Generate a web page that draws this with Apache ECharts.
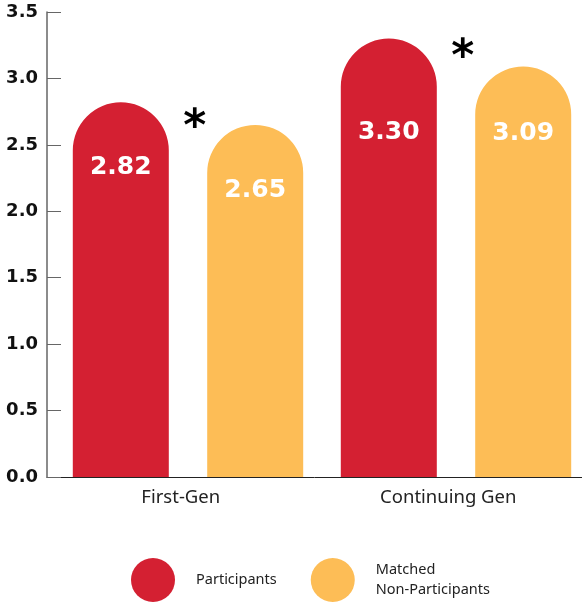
<!DOCTYPE html>
<html>
<head>
<meta charset="utf-8">
<script src="https://cdn.jsdelivr.net/npm/echarts@6/dist/echarts.min.js"></script>
<style>html,body{margin:0;padding:0;background:#fff}#c{width:582px;height:606px}</style>
</head>
<body>
<div id="c"></div>
<script>
const categories = ['First-Gen', 'Continuing Gen'];
const participants = [2.82, 3.30];
const nonParticipants = [2.65, 3.09];
const significant = [true, true];
const yTicks = [0, 0.5, 1.0, 1.5, 2.0, 2.5, 3.0, 3.5];
const seriesNames = ['Participants', 'Matched\nNon-Participants'];

const RED = '#D42032';
const YEL = '#FDBD56';
const labelDistRed = [53, 81];
const labelDistYel = [53, 55];
const starOffsetY = [26, 20];

const chart = echarts.init(document.getElementById('c'), null, {renderer: 'canvas'});

function labelCfg(dist) {
  return {
    show: true, position: 'insideTop', distance: dist, color: '#fff',
    fontFamily: 'DejaVu Sans', fontWeight: 'bold', fontSize: 25,
    formatter: p => p.value.toFixed(2)
  };
}

const yMin = yTicks[0], yMax = yTicks[yTicks.length - 1];

const option = {
  animation: false,
  grid: [
    {left: 47, right: 0, top: 12, bottom: 129},
    {left: 54, width: 536, top: 12, bottom: 129, outerBoundsMode: 'none', containLabel: false}
  ],
  legend: {
    left: 126, top: 548, itemGap: 34, icon: 'circle', itemWidth: 44, itemHeight: 44,
    data: seriesNames,
    textStyle: {fontFamily: 'Noto Sans', fontSize: 14.5, color: '#222', lineHeight: 20, padding: [14, 0, 0, 16]}
  },
  xAxis: [
    {
      type: 'category', data: categories, gridIndex: 0,
      axisLine: {lineStyle: {color: '#222', width: 1}},
      axisTick: {inside: true, length: 11, lineStyle: {color: '#222'}},
      axisLabel: {fontFamily: 'Noto Sans', fontSize: 18.5, color: '#222', margin: 11}
    },
    {
      type: 'category', data: categories, gridIndex: 1, show: false
    }
  ],
  yAxis: [
    {
      type: 'value', min: yMin, max: yMax, interval: 0.5, gridIndex: 0,
      axisLine: {show: true, lineStyle: {color: '#666', width: 1.5}},
      axisTick: {show: true, inside: true, length: 14, lineStyle: {color: '#666'}},
      splitLine: {show: false},
      axisLabel: {fontFamily: 'DejaVu Sans', fontWeight: 'bold', fontSize: 18, color: '#111', margin: 9,
        formatter: v => v.toFixed(1)}
    },
    {
      type: 'value', min: yMin, max: yMax, interval: 0.5, gridIndex: 1, show: false, splitLine: {show: false}
    }
  ],
  series: [
    {
      name: seriesNames[0], type: 'bar', xAxisIndex: 1, yAxisIndex: 1, barWidth: 96, barGap: '40%',
      itemStyle: {color: RED, borderRadius: [48, 48, 0, 0]},
      data: participants.map((v, i) => ({value: v, label: labelCfg(labelDistRed[i])})),
      markPoint: {
        symbol: 'circle', symbolSize: 1, itemStyle: {color: 'rgba(0,0,0,0)'},
        label: {show: true, formatter: '*', color: '#000', fontFamily: 'DejaVu Sans', fontWeight: 'bold', fontSize: 44},
        data: categories.map((c, i) => significant[i]
          ? {coord: [c, participants[i]], label: {offset: [74, starOffsetY[i]]}} : null).filter(Boolean)
      }
    },
    {
      name: seriesNames[1], type: 'bar', xAxisIndex: 1, yAxisIndex: 1, barWidth: 96,
      itemStyle: {color: YEL, borderRadius: [48, 48, 0, 0]},
      data: nonParticipants.map((v, i) => ({value: v, label: labelCfg(labelDistYel[i])}))
    }
  ]
};
chart.setOption(option);
</script>
</body>
</html>
